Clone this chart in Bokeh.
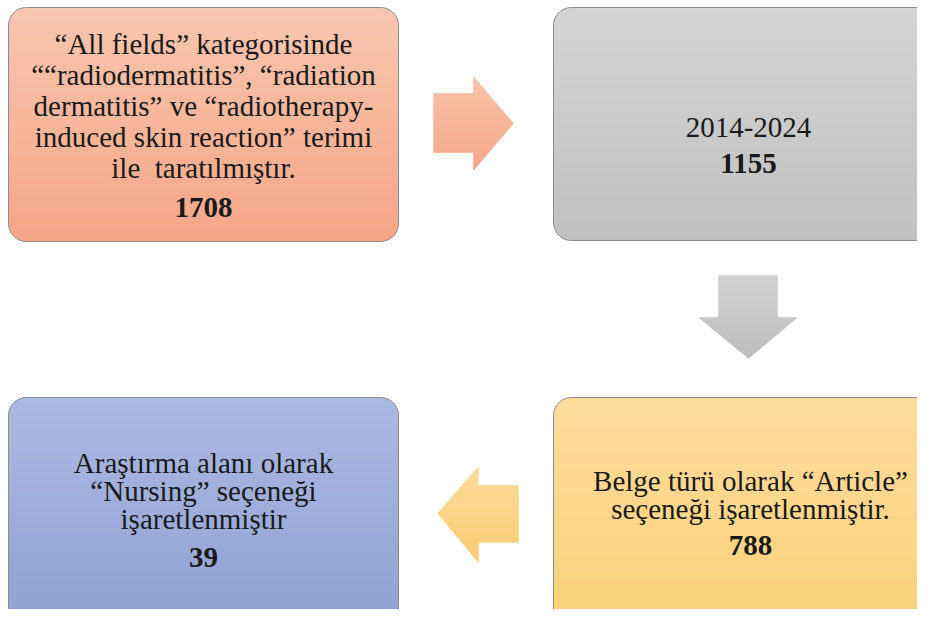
import numpy as np
from bokeh.plotting import figure
from bokeh.models import Range1d
from bokeh.core.properties import value
from bokeh.embed import file_html
from bokeh.resources import INLINE

# ---------------- data ----------------
step_lines = [
    ["“All fields” kategorisinde",
     "““radiodermatitis”, “radiation",
     "dermatitis” ve “radiotherapy-",
     "induced skin reaction” terimi",
     "ile\u00a0 taratılmıştır."],
    ["2014-2024"],
    ["Belge türü olarak “Article”",
     "seçeneği işaretlenmiştir."],
    ["Araştırma alanı olarak",
     "“Nursing” seçeneği",
     "işaretlenmiştir"],
]
step_counts = ["1708", "1155", "788", "39"]

# ---------------- layout / style ----------------
W, H = 917, 609
X0, Y0 = 0, 0  # data coords == screenshot pixels

boxes = [  # left, top, right, bottom
    (8, 7, 398, 241),
    (553, 7, 943, 240),
    (553, 397, 943, 631),
    (8, 397, 398, 631),
]
box_top_colors = ["#F9C6B1", "#D4D4D4", "#FEDC9C", "#ABBAE1"]
box_bot_colors = ["#F4A686", "#C1C1C1", "#FDD17A", "#8EA1D3"]
text_cx = [203, 748, 750, 203]
text_first_y = [43, 127, 480, 462]
text_step = [31, 30, 28, 28]
count_gap = [40, 36, 37, 39]

arrows = [
    # polygon points (x, y)
    [(433, 93), (473, 93), (473, 76), (513, 123), (473, 170), (473, 152), (433, 152)],
    [(718, 275), (777, 275), (777, 317), (797, 317), (748, 358), (698, 317), (718, 317)],
    [(518, 485), (478, 485), (478, 466), (437, 513), (478, 562), (478, 542), (518, 542)],
]
arrow_top_colors = ["#F9C3AA", "#D2D2D2", "#FEDC9B"]
arrow_bot_colors = ["#F4A887", "#BDBDBD", "#FDCB74"]

FONT = value("Liberation Serif")


def hex2rgb(h):
    h = h.lstrip("#")
    return np.array([int(h[i:i + 2], 16) for i in (0, 2, 4)], dtype=float)


def mix(c1, c2, t):
    a, b = hex2rgb(c1), hex2rgb(c2)
    c = a + (b - a) * t
    return "#%02x%02x%02x" % tuple(int(round(v)) for v in c)


def rounded_rect(l, t, r, b, rad, n=14):
    pts = []
    corners = [((l + rad, t + rad), np.pi, 1.5 * np.pi),
               ((r - rad, t + rad), 1.5 * np.pi, 2 * np.pi),
               ((r - rad, b - rad), 0.0, 0.5 * np.pi),
               ((l + rad, b - rad), 0.5 * np.pi, np.pi)]
    for (cx, cy), a0, a1 in corners:
        for a in np.linspace(a0, a1, n):
            pts.append((cx + rad * np.cos(a), cy + rad * np.sin(a)))
    return pts


def clip_half(poly, y, keep_below):
    out = []
    n = len(poly)
    for i in range(n):
        p, q = poly[i], poly[(i + 1) % n]
        pin = (p[1] >= y) if keep_below else (p[1] <= y)
        qin = (q[1] >= y) if keep_below else (q[1] <= y)
        if pin:
            out.append(p)
        if pin != qin:
            tt = (y - p[1]) / (q[1] - p[1])
            out.append((p[0] + tt * (q[0] - p[0]), y))
    return out


def band(poly, y0, y1):
    return clip_half(clip_half(poly, y0, True), y1, False)


def gradient_fill(p, poly, c_top, c_bot, nstrips=60):
    ys = [q[1] for q in poly]
    top, bot = min(ys), max(ys)
    # base flat fill (hides seams)
    p.patch([q[0] for q in poly], [q[1] for q in poly],
            fill_color=mix(c_top, c_bot, 0.5), line_color=None)
    edges = np.linspace(top, bot, nstrips + 1)
    xs, yss, cols = [], [], []
    for i in range(nstrips):
        seg = band(poly, edges[i], edges[i + 1] + 0.6)
        if len(seg) < 3:
            continue
        xs.append([q[0] for q in seg])
        yss.append([q[1] for q in seg])
        cols.append(mix(c_top, c_bot, (i + 0.5) / nstrips))
    p.patches(xs, yss, fill_color=cols, line_color=None)


p = figure(width=W, height=H, output_backend="svg", toolbar_location=None,
           x_range=Range1d(X0, X0 + W), y_range=Range1d(Y0 + H, Y0),
           min_border=0, background_fill_color="white",
           border_fill_color="white", outline_line_color=None)
p.axis.visible = False
p.grid.visible = False

# boxes
for i, (l, t, r, b) in enumerate(boxes):
    poly = rounded_rect(l, t, r, b, 18)
    gradient_fill(p, poly, box_top_colors[i], box_bot_colors[i], nstrips=80)
    p.patch([q[0] for q in poly], [q[1] for q in poly], fill_color=None,
            line_color="#8C8C8C", line_width=1)

# arrows
for i, poly in enumerate(arrows):
    gradient_fill(p, poly, arrow_top_colors[i], arrow_bot_colors[i], nstrips=50)

# texts
for i, lines in enumerate(step_lines):
    ys = [text_first_y[i] + k * text_step[i] for k in range(len(lines))]
    p.text(x=[text_cx[i]] * len(lines), y=ys, text=lines,
           text_align="center", text_baseline="middle",
           text_font=FONT, text_font_size="29px", text_color="#1A1A1A")
    cy = ys[-1] + count_gap[i]
    p.text(x=[text_cx[i]], y=[cy], text=[step_counts[i]],
           text_align="center", text_baseline="middle",
           text_font=FONT, text_font_size="29px", text_font_style="bold",
           text_color="#1A1A1A")

open("out.html", "w").write(file_html(p, INLINE))
